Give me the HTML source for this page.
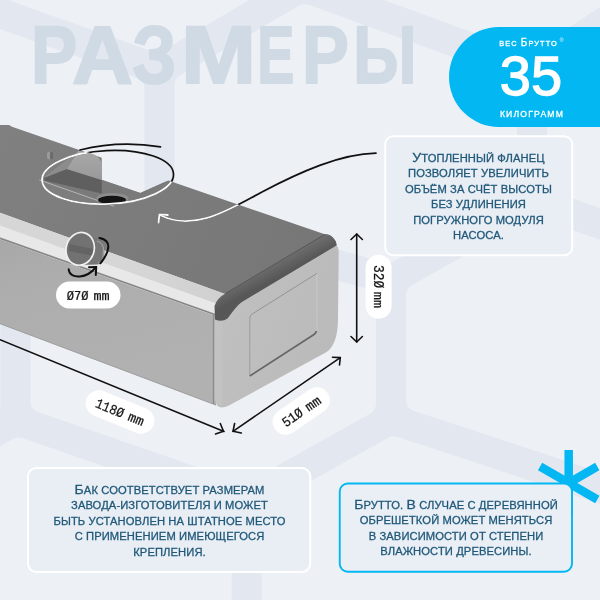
<!DOCTYPE html>
<html><head><meta charset="utf-8">
<style>
html,body{margin:0;padding:0;width:600px;height:600px;overflow:hidden;background:#edf0f5;}
svg{position:absolute;left:0;top:0;display:block;will-change:transform;}
text{font-family:"Liberation Sans",sans-serif;}
.lbl text{font-family:"Liberation Mono",monospace;fill:#151515;stroke:#151515;stroke-width:0.25;}
</style></head>
<body>
<svg width="600" height="600" viewBox="0 0 600 600">
<defs>
  <linearGradient id="gTop" gradientUnits="userSpaceOnUse" x1="0" y1="130" x2="330" y2="290">
    <stop offset="0" stop-color="#808080"/>
    <stop offset="0.5" stop-color="#7b7b7b"/>
    <stop offset="1" stop-color="#767676"/>
  </linearGradient>
  <linearGradient id="gFront" gradientUnits="userSpaceOnUse" x1="0" y1="240" x2="40" y2="400">
    <stop offset="0" stop-color="#a8a8a8"/>
    <stop offset="0.3" stop-color="#adadad"/>
    <stop offset="1" stop-color="#b1b1b1"/>
  </linearGradient>
  <linearGradient id="gWall" gradientUnits="userSpaceOnUse" x1="0" y1="150" x2="0" y2="180">
    <stop offset="0" stop-color="#a9a9a9"/>
    <stop offset="1" stop-color="#999"/>
  </linearGradient>
  <linearGradient id="gRim" gradientUnits="userSpaceOnUse" x1="275" y1="262" x2="282" y2="275">
    <stop offset="0" stop-color="#6e6e6e"/>
    <stop offset="1" stop-color="#575757"/>
  </linearGradient>
  <linearGradient id="gBand" x1="0" y1="0" x2="1" y2="0">
    <stop offset="0" stop-color="#d6d6d6"/>
    <stop offset="0.6" stop-color="#d6d6d6"/>
    <stop offset="1" stop-color="#d0d0d0"/>
  </linearGradient>
  <linearGradient id="gCap" gradientUnits="userSpaceOnUse" x1="215" y1="300" x2="340" y2="340">
    <stop offset="0" stop-color="#c0c0c0"/>
    <stop offset="1" stop-color="#bababa"/>
  </linearGradient>
</defs>
<!-- background -->
<rect width="600" height="600" fill="#e3e7f0"/>
<g fill="#edf0f5" stroke="#edf0f5" stroke-width="22" stroke-linejoin="round">
<path d="M185.5 84.9 L304.9 15.0 L506.0 88.2 L506.0 184.9 L387.6 252.0 L185.5 195.3 Z"/>
<path d="M41.5 314.8 L163.2 243.0 L365.0 299.7 L365.0 403.8 L244.2 471.6 L41.5 401.5 Z"/>
<path d="M417.0 295.1 L534.5 228.5 L674.0 277.4 L674.0 485.0 L417.0 400.2 Z"/>
<path d="M558.0 84.0 L674.0 7.3 L674.0 222.3 L558.0 181.6 Z"/>
<path d="M328.3 -31.8 L328.3 -124.0 L674.0 -124.0 L674.0 -55.0 L528.6 41.1 Z"/>
<path d="M156.8 41.4 L-124.0 -58.8 L-124.0 -124.0 L276.3 -124.0 L276.3 -28.5 Z"/>
<path d="M133.5 88.3 L133.5 200.2 L12.8 271.4 L-124.0 222.7 L-124.0 -3.6 Z"/>
<path d="M-10.5 318.3 L-10.5 405.3 L-124.0 473.2 L-124.0 277.9 Z"/>
<path d="M18.4 448.5 L220.7 518.5 L220.7 724.0 L-124.0 724.0 L-124.0 533.7 Z"/>
<path d="M272.7 515.2 L393.7 447.3 L674.0 539.8 L674.0 724.0 L272.7 724.0 Z"/>
</g>

<!-- title -->
<g font-size="82" font-weight="bold" fill="#d0dae4" stroke="#d0dae4" stroke-width="2" stroke-linejoin="round"><text x="0" y="0" transform="translate(30.92 83.3) scale(0.845 1.0)">Р</text><text x="0" y="0" transform="translate(71.97 83.3) scale(1.030 1.0)">А</text><text x="0" y="0" transform="translate(132.14 83.3) scale(0.860 1.0)">З</text><text x="0" y="0" transform="translate(181.10 83.3) scale(1.100 1.0)">М</text><text x="0" y="0" transform="translate(257.28 83.3) scale(0.679 1.0)">Е</text><text x="0" y="0" transform="translate(302.07 83.3) scale(0.857 1.0)">Р</text><text x="0" y="0" transform="translate(353.15 83.3) scale(0.787 1.0)">Ы</text></g>

<!-- badge -->
<path d="M499 27 H600 V127 H499 A50 50 0 0 1 499 27 Z" fill="#02b7f2"/>
<text x="528.5" y="45.7" font-size="7.4" fill="#fff" stroke="#fff" stroke-width="0.3" text-anchor="middle" letter-spacing="1.1">ВЕС <tspan font-size="10">Б</tspan>РУТТО</text>
<text x="561.5" y="42" font-size="5" fill="#fff" text-anchor="middle">®</text>
<text x="531" y="95.3" font-size="56" fill="#fff" stroke="#fff" stroke-width="1.3" text-anchor="middle">35</text>
<text x="532" y="116.5" font-size="8.6" fill="#fff" stroke="#fff" stroke-width="0.3" text-anchor="middle" letter-spacing="1.2">КИЛОГРАММ</text>

<!-- TANK -->
<clipPath id="tankClip"><path d="M0 125 L9 125 L12 126.7 L80 150.3 L88 152.5 C98 154 102 158 102 168 L101.7 179.7 L140.3 193 L168.3 180.6 L324.8 234.3 Q333 233.5 337 244 L338 318 C338 338 333 348.5 325.7 352.6 L229 405.5 Q221 409.5 216 405.5 L0 324 Z"/></clipPath>
<!-- top face (with notch) -->
<path d="M0 125 L9 125 L12 126.7 L80 150.3 L101.7 157.7 L101.7 179.7 L140.3 193 L168.3 180.6 L324.8 234.3 Q331 233.5 335.5 241 L225 294 L0 212.7 Z" fill="url(#gTop)"/>
<!-- recess floor -->
<path d="M44 180.5 L101.8 193.5 L101.8 180 L140.3 193 L168.3 180.6 L124 206.5 L114.3 206.3 Z" fill="#7a7a7a"/>
<path d="M44.3 178 L66.8 168.9 L101.8 180 L101.8 193.5 L44.3 180.5 Z" fill="#5f5f5f"/>
<!-- flange wall -->
<path d="M43.5 177.7 L78.5 150.8 L66.8 168.9 Z" fill="#8c8c8c"/>
<path d="M78.5 150.8 L88 152.8 C97 154.5 101.8 158 101.8 168 L101.8 180 L66.8 168.9 Z" fill="url(#gWall)"/>
<line x1="39.3" y1="180" x2="114.3" y2="206.3" stroke="#b5b5b5" stroke-width="1"/>
<!-- hole -->
<ellipse cx="112.5" cy="198.5" rx="16" ry="5.5" fill="#8e8e8e"/>
<ellipse cx="112" cy="200" rx="14" ry="4.2" fill="#141414"/>
<!-- bolt -->
<rect x="47" y="151.7" width="6" height="7.5" rx="2" fill="#9a9a9a"/><rect x="50" y="151.7" width="3" height="7.5" rx="1" fill="#6a6a6a"/>
<!-- front highlight band -->
<path d="M0 212.7 L225 294 Q219 300 216.5 315 L0 238.5 Z" fill="url(#gBand)"/>
<path d="M0 225.5 L219 304.5 L217.5 314.5 L0 237 Z" fill="#e8e8e8"/>
<line x1="0" y1="238.3" x2="216" y2="315" stroke="#858585" stroke-width="1.6"/>
<!-- front face -->
<path d="M0 239.3 L216 316 L216 405.5 L0 324 Z" fill="url(#gFront)"/>
<line x1="0" y1="323.6" x2="216" y2="405" stroke="#9c9c9c" stroke-width="0.8"/>
<!-- end cap face -->
<path d="M232.5 302.5 L336 245 Q338.7 247 338.7 252 L338 318 C338 338 333 348.5 325.7 352.6 L229 405.5 Q221 409.5 217 405.5 L214.5 399 L214.5 322 Q216 310 232.5 302.5 Z" fill="url(#gCap)"/>
<path d="M214.5 320 L222 320 L222 405 Q217 406 214.5 400 Z" fill="#c6c6c6" opacity="0.5"/>
<line x1="213.5" y1="314" x2="213.5" y2="404" stroke="#8c8c8c" stroke-width="1.3"/>
<!-- inset panel -->
<path d="M316.9 273.4 L316.9 331" stroke="#c9c9c9" stroke-width="1"/>
<path d="M252.5 313.8 L316.9 273.4" stroke="#8e8e8e" stroke-width="0.9"/>
<path d="M249.8 318 Q250 314.8 252.5 313.8" stroke="#8e8e8e" stroke-width="0.9" fill="none"/>
<path d="M249.8 318 L249.8 376" stroke="#9a9a9a" stroke-width="0.9"/>
<path d="M249.8 376 L314 334.5 Q316 333 316.5 331" stroke="#676767" stroke-width="1.7" fill="none"/>
<!-- rim -->
<path d="M225 293.7 L324.8 234.3 Q331 233.5 335.9 241.6 L336.8 245.3 L244 300.8 C236 305.5 233 312 227.5 318.5 Q222 322.5 215 319.5 L214.5 306 Q217 298 225 293.7 Z" fill="url(#gRim)"/>
<path d="M225.5 293.5 L324.5 234.6" stroke="#555" stroke-width="0.9"/>
<!-- pipe -->
<path d="M82 234 L97 239 Q104.5 241.5 104.5 249 L104 258 Q103.5 264 97 264.5 L80 265 Z" fill="#767676"/>
<path d="M97 241 Q103.5 243 103.5 250 L103 258 Q102.5 262.5 98 263" stroke="#a0a0a0" stroke-width="1.3" fill="none"/>
<ellipse cx="80.2" cy="248.9" rx="14" ry="16.6" fill="#727272" transform="rotate(15 80.2 248.9)"/>
<path d="M69 244 L93 249 L93 256 L69 251 Z" fill="#5e5e5e" opacity="0.7"/>
<ellipse cx="80.2" cy="248.9" rx="14" ry="16.6" fill="none" stroke="#f0f0f0" stroke-width="1.7" transform="rotate(15 80.2 248.9)"/>
<g fill="none" stroke="#111" stroke-width="2" stroke-linecap="round" stroke-linejoin="round">
<path d="M99.4 238 C106 239 109 243 108.2 248 C107.5 254 104 259 100.4 263.3"/>
<path d="M68.7 269.3 C69 275 74 277 80 276.5 C87 276 92 272 96.2 267"/>
<polyline points="89,267.3 96.2,267 95.8,275"/>
</g>
<!-- annotation curves: black base -->
<g fill="none" stroke="#111" stroke-width="1.7" stroke-linecap="round" stroke-linejoin="round">
<ellipse cx="107.8" cy="177.2" rx="65.8" ry="26.7" transform="rotate(-2.8 107.8 177.2)"/>
<path d="M80 150 Q119 140 160.5 146.8"/>
<path d="M376 153.2 C340 154 300 172 262 192 C230 209 195 232 161 215.5"/>
<polyline points="167.9,215 159.4,214.4 158.6,222.5"/>
</g>
<!-- white over tank -->
<g clip-path="url(#tankClip)" fill="none" stroke="#fafafa" stroke-width="1.9" stroke-linecap="round" stroke-linejoin="round">
<ellipse cx="107.8" cy="177.2" rx="65.8" ry="26.7" transform="rotate(-2.8 107.8 177.2)"/>
<path d="M376 153.2 C340 154 300 172 262 192 C230 209 195 232 161 215.5"/>
<polyline points="167.9,215 159.4,214.4 158.6,222.5"/>
</g>
<!-- box 1 -->
<rect x="385.25" y="136.25" width="187" height="119" rx="8" fill="#e9edf4" stroke="#fff" stroke-width="2"/>
<!-- box 2 -->
<rect x="28" y="468" width="282.25" height="104" rx="8.5" fill="#e9edf4" stroke="#fff" stroke-width="2"/>
<!-- asterisk -->
<g stroke="#02b7f2" stroke-width="8.5">
  <line x1="568.7" y1="450" x2="568.7" y2="516"/>
  <line x1="540.1" y1="466.5" x2="597.3" y2="499.5"/>
  <line x1="540.1" y1="499.5" x2="597.3" y2="466.5"/>
</g>
<!-- box 3 -->
<rect x="339.75" y="483.5" width="232.25" height="88.25" rx="8" fill="#eaeef5" stroke="#02b7f2" stroke-width="1.9"/>

<!-- dimension 320 -->
<g stroke="#111" stroke-width="1.6" fill="none" stroke-linecap="round" stroke-linejoin="round">
  <line x1="356.7" y1="234" x2="356.7" y2="342"/>
  <polyline points="351,239.5 356.7,234 362.4,239.5"/>
  <polyline points="351,336.5 356.7,342 362.4,336.5"/>
  <line x1="0" y1="339.7" x2="224" y2="431.5"/>
  <polyline points="215.5,434 223.5,431.2 220.3,423.5"/>
  <line x1="233" y1="431.3" x2="340.3" y2="357.6"/>
  <polyline points="234.6,423.5 233,431.3 241.3,433"/>
  <polyline points="332.5,357.3 340.3,357.6 339.5,365"/>
</g>
<rect x="365.6" y="254.7" width="26" height="64" rx="13" fill="#fff"/>
<g class="lbl"><text x="0" y="0" font-size="15" transform="translate(373.9 265) rotate(90) scale(0.86 1)">32Ø</text>
<text x="0" y="0" font-size="13.5" transform="translate(373.8 291.8) rotate(90)">mm</text></g>

<g transform="translate(120 412) rotate(22)">
<rect x="-36" y="-13" width="72" height="26" rx="13" fill="#fff"/>
<g class="lbl"><text x="0" y="0" font-size="14" transform="translate(-25.6 4.8) scale(0.88 1)">118Ø</text>
<text x="0" y="0" font-size="13.5" transform="translate(9.6 4.8)">mm</text></g>
</g>
<g transform="translate(301.3 411) rotate(-34.5)">
<rect x="-32" y="-13" width="64" height="26" rx="13" fill="#fff"/>
<g class="lbl"><text x="0" y="0" font-size="14" transform="translate(-22 4.8) scale(0.88 1)">51Ø</text>
<text x="0" y="0" font-size="13.5" transform="translate(5.7 4.8)">mm</text></g>
</g>
<rect x="56" y="281.5" width="64.5" height="27" rx="13.5" fill="#fff"/>
<g class="lbl"><text x="0" y="0" font-size="13.7" transform="translate(66.8 299.6) scale(0.88 1)">Ø7Ø</text>
<text x="0" y="0" font-size="13.5" transform="translate(93.5 299.6)">mm</text></g>

<!-- box texts -->
<g fill="#1f5879" stroke="#1f5879" stroke-width="0.3" font-size="11.2" text-anchor="middle" letter-spacing="0.1">
<text x="0" y="0" transform="translate(478.5 162) scale(1 0.93)"><tspan font-size="14">У</tspan>ТОПЛЕННЫЙ ФЛАНЕЦ</text>
<text x="0" y="0" transform="translate(478.5 177.3) scale(1 0.93)">ПОЗВОЛЯЕТ УВЕЛИЧИТЬ</text>
<text x="0" y="0" transform="translate(478.5 192.8) scale(1 0.93)">ОБЪЁМ ЗА СЧЁТ ВЫСОТЫ</text>
<text x="0" y="0" transform="translate(478.5 208.3) scale(1 0.93)">БЕЗ УДЛИНЕНИЯ</text>
<text x="0" y="0" transform="translate(478.5 223.8) scale(1 0.93)">ПОГРУЖНОГО МОДУЛЯ</text>
<text x="0" y="0" transform="translate(478.5 239.3) scale(1 0.93)">НАСОСА.</text>

<text x="0" y="0" transform="translate(169.5 493.7) scale(1 0.93)"><tspan font-size="14">Б</tspan>АК СООТВЕТСТВУЕТ РАЗМЕРАМ</text>
<text x="0" y="0" transform="translate(169.5 509) scale(1 0.93)">ЗАВОДА-ИЗГОТОВИТЕЛЯ И МОЖЕТ</text>
<text x="0" y="0" transform="translate(169.5 524.5) scale(1 0.93)">БЫТЬ УСТАНОВЛЕН НА ШТАТНОЕ МЕСТО</text>
<text x="0" y="0" transform="translate(169.5 540) scale(1 0.93)">С ПРИМЕНЕНИЕМ ИМЕЮЩЕГОСЯ</text>
<text x="0" y="0" transform="translate(169.5 555.5) scale(1 0.93)">КРЕПЛЕНИЯ.</text>

<text x="0" y="0" transform="translate(456 509) scale(1 0.93)"><tspan font-size="14">Б</tspan>РУТТО. <tspan font-size="14">В</tspan> СЛУЧАЕ С ДЕРЕВЯННОЙ</text>
<text x="0" y="0" transform="translate(456 524.3) scale(1 0.93)">ОБРЕШЕТКОЙ МОЖЕТ МЕНЯТЬСЯ</text>
<text x="0" y="0" transform="translate(456 539.6) scale(1 0.93)">В ЗАВИСИМОСТИ ОТ СТЕПЕНИ</text>
<text x="0" y="0" transform="translate(456 554.9) scale(1 0.93)">ВЛАЖНОСТИ ДРЕВЕСИНЫ.</text>
</g>
</svg>
</body></html>
